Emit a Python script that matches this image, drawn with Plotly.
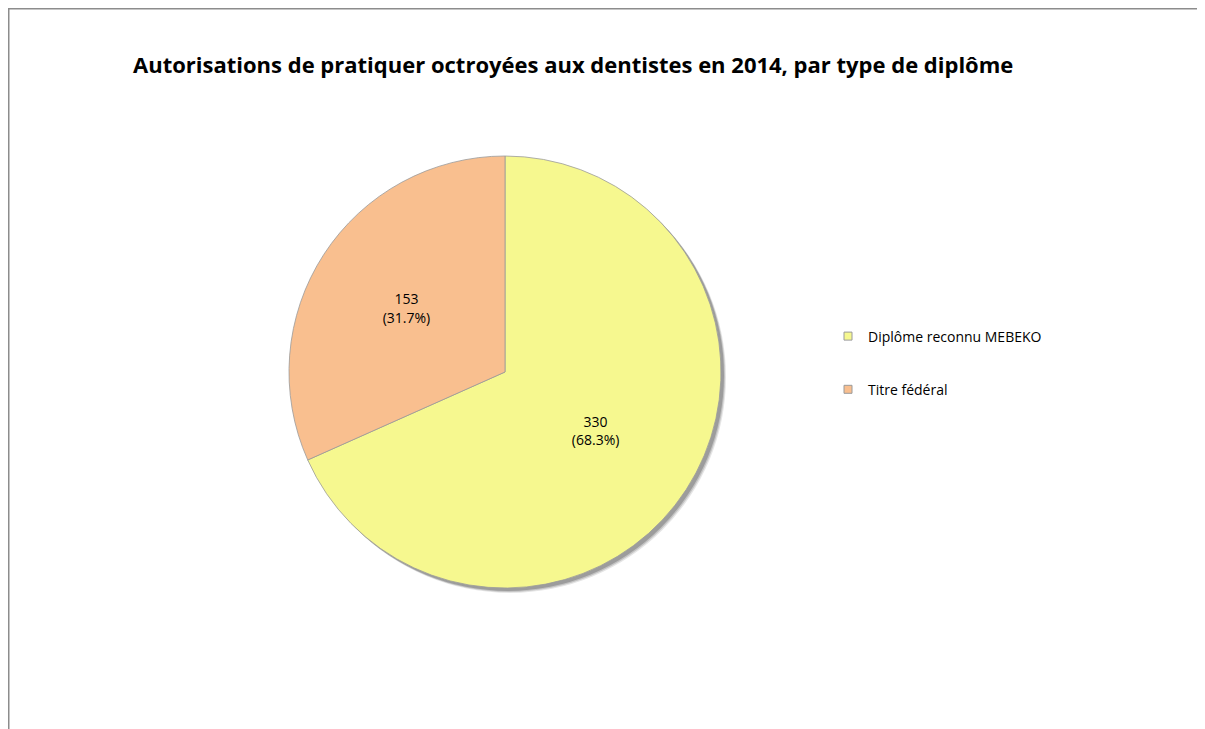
import plotly.graph_objects as go

# =========================
# Data
# =========================

labels = ["Diplôme reconnu MEBEKO", "Titre fédéral"]
values = [330, 153]
colors = ["#F6F88F", "#F9BF8F"]

title_text = "Autorisations de pratiquer octroyées aux dentistes en 2014, par type de diplôme"

W, H = 1205, 729
FONT = "Open Sans, Liberation Sans, Arial, sans-serif"

# pie position in pixels (the page adds an 8px body margin)
cx, cy, r = 497, 364, 216


def dom(dx=0, dy=0):
    return dict(
        x=[(cx - r + dx) / W, (cx + r + dx) / W],
        y=[1 - (cy + r + dy) / H, 1 - (cy - r + dy) / H],
    )


fig = go.Figure()

# soft shadow behind the pie
for off, alpha in [(5, 0.10), (4, 0.15), (3, 0.2)]:
    fig.add_trace(go.Pie(
        values=[1],
        labels=["shadow"],
        domain=dom(off, off),
        marker=dict(colors=[f"rgba(0,0,0,{alpha})"], line=dict(width=0)),
        textinfo="none",
        hoverinfo="skip",
        showlegend=False,
        sort=False,
    ))

# main pie
fig.add_trace(go.Pie(
    labels=labels,
    values=values,
    domain=dom(),
    sort=False,
    direction="clockwise",
    rotation=0,
    marker=dict(colors=colors, line=dict(color="#9a9a9a", width=0.8)),
    texttemplate="%{value}<br>(%{percent:.1%})",
    textposition="inside",
    insidetextorientation="horizontal",
    textfont=dict(family=FONT, size=14, color="black"),
    hoverinfo="label+value+percent",
    showlegend=False,
))

# legend entries
for lab, col in zip(labels, colors):
    fig.add_trace(go.Scatter(
        x=[None], y=[None],
        mode="markers",
        name=lab,
        legendgroup=lab,
        marker=dict(symbol="square", size=8, color=col,
                    line=dict(color="#9a9a9a", width=1)),
    ))

fig.update_layout(
    width=W,
    height=H,
    margin=dict(l=0, r=0, t=0, b=0),
    paper_bgcolor="white",
    plot_bgcolor="white",
    font=dict(family=FONT, size=14, color="black"),
    title=dict(
        text="<b>" + title_text + "</b>",
        x=125 / W,
        xanchor="left",
        y=1 - 57 / H,
        yanchor="middle",
        font=dict(family=FONT, size=22, color="black"),
    ),
    xaxis=dict(visible=False),
    yaxis=dict(visible=False),
    legend=dict(
        x=820 / W,
        xanchor="left",
        y=1 - 355 / H,
        yanchor="middle",
        tracegroupgap=32,
        font=dict(family=FONT, size=14, color="black"),
        itemwidth=30,
    ),
    shapes=[
        dict(type="line", xref="paper", yref="paper",
             x0=0, x1=1.01, y0=1, y1=1,
             line=dict(color="#8c8c8c", width=3)),
        dict(type="line", xref="paper", yref="paper",
             x0=0, x1=0, y0=-0.01, y1=1,
             line=dict(color="#8c8c8c", width=3)),
    ],
)

fig.write_html("out.html")
